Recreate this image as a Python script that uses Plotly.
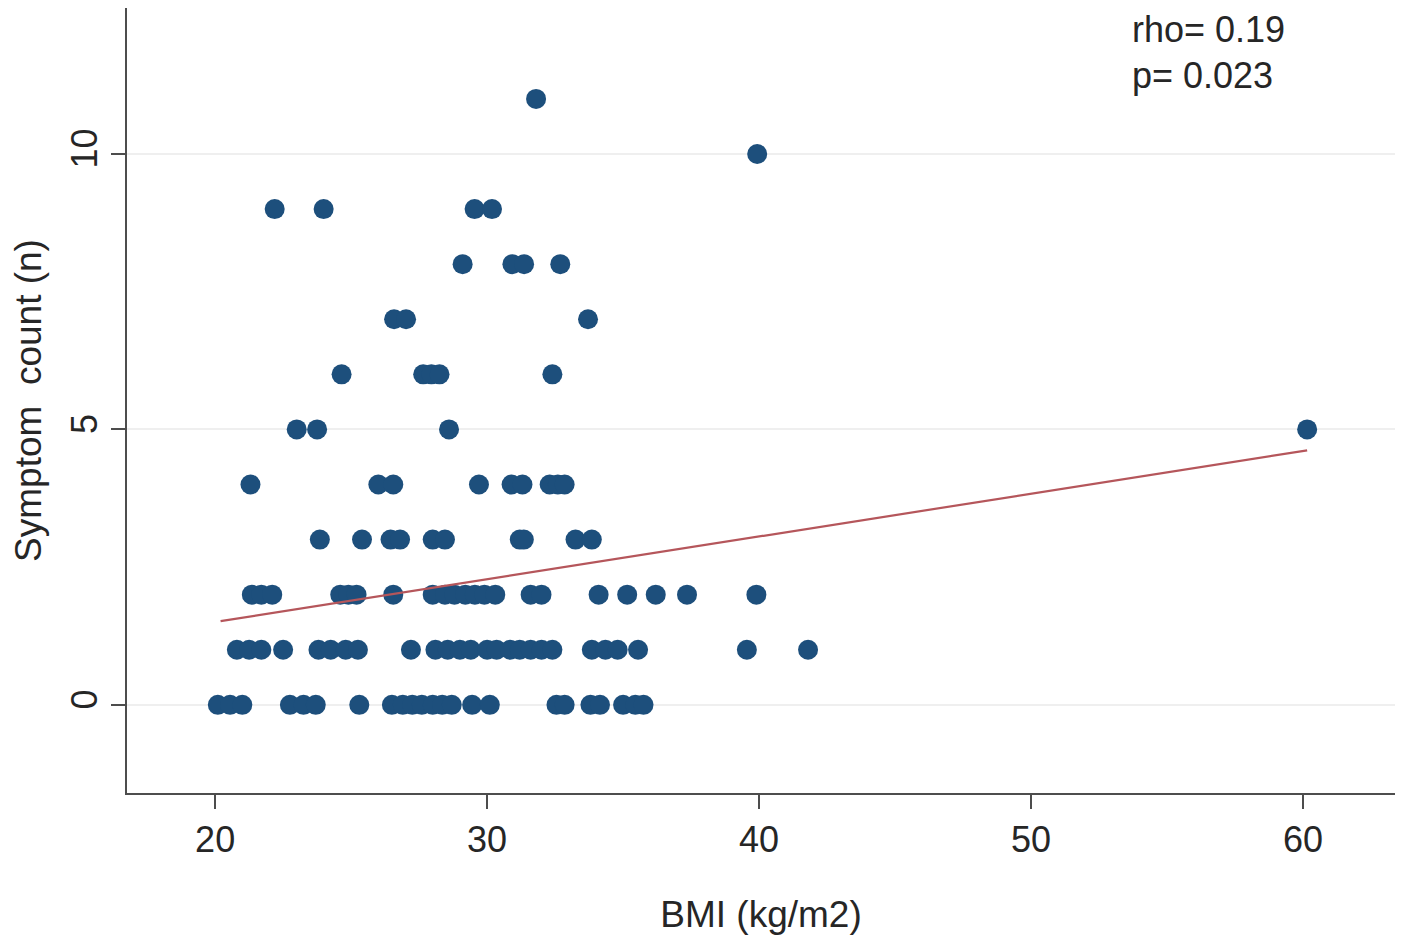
import plotly.graph_objects as go

# Data: BMI (kg/m2) and symptom count
bmi = [
    # count 0
    20.1, 20.55, 21.0, 22.75, 23.25, 23.7, 25.3, 26.5, 26.9, 27.25, 27.6, 28.0, 28.35, 28.7,
    29.45, 30.1, 32.55, 32.85, 33.8, 34.15, 35.0, 35.45, 35.75,
    # count 1
    20.8, 21.25, 21.7, 22.5, 23.8, 24.25, 24.8, 25.25, 27.2, 28.1, 28.55, 29.0, 29.4, 30.0,
    30.35, 30.85, 31.2, 31.6, 32.0, 32.4, 33.85, 34.35, 34.8, 35.55, 39.55, 41.8,
    # count 2
    21.35, 21.7, 22.1, 24.6, 24.9, 25.2, 26.55, 28.0, 28.45, 28.8, 29.2, 29.55, 29.9, 30.3,
    31.6, 32.0, 34.1, 35.15, 36.2, 37.35, 39.9,
    # count 3
    23.85, 25.4, 26.45, 26.8, 28.0, 28.45, 31.2, 31.35, 33.25, 33.85,
    # count 4
    21.3, 26.0, 26.55, 29.7, 30.9, 31.3, 32.3, 32.6, 32.85,
    # count 5
    23.0, 23.75, 28.6, 60.15,
    # count 6
    24.65, 27.65, 27.95, 28.25, 32.4,
    # count 7
    26.58, 27.02, 33.71,
    # count 8
    29.1, 30.93, 31.36, 32.69,
    # count 9
    22.19, 23.99, 29.54, 30.18,
    # count 10
    39.93,
    # count 11
    31.8,
]
counts = (
    [0] * 23 + [1] * 26 + [2] * 21 + [3] * 10 + [4] * 9 + [5] * 4 + [6] * 5
    + [7] * 3 + [8] * 4 + [9] * 4 + [10] * 1 + [11] * 1
)

# Fitted line end points
fit_x = [20.2, 60.15]
fit_y = [1.52, 4.62]

x_ticks = [20, 30, 40, 50, 60]
y_ticks = [0, 5, 10]

fig = go.Figure()
fig.add_trace(go.Scatter(
    x=bmi, y=counts, mode="markers",
    marker=dict(size=20, color="#1d4f7c", line=dict(width=0)),
    showlegend=False,
))
fig.add_trace(go.Scatter(
    x=fit_x, y=fit_y, mode="lines",
    line=dict(color="#b5565b", width=2.2),
    showlegend=False,
))

font_family = "Liberation Sans, Arial, sans-serif"
txt = "#262626"

fig.update_layout(
    width=1418, height=950,
    margin=dict(l=119, r=31, t=0, b=165),
    paper_bgcolor="white", plot_bgcolor="white",
    font=dict(family=font_family, size=36, color=txt),
    xaxis=dict(
        range=[16.76, 63.38], tickvals=x_ticks,
        showline=True, linecolor="#4d4d4d", linewidth=2,
        ticks="outside", ticklen=14, tickwidth=2, tickcolor="#4d4d4d",
        showgrid=False, zeroline=False,
        tickfont=dict(size=36, color=txt),
        title=dict(text="BMI (kg/m2)", font=dict(size=37, color=txt), standoff=42),
    ),
    yaxis=dict(
        range=[-1.6, 12.65], tickvals=y_ticks, tickangle=-90,
        showline=True, linecolor="#4d4d4d", linewidth=2,
        ticks="outside", ticklen=14, tickwidth=2, tickcolor="#4d4d4d",
        showgrid=True, gridcolor="#efefef", gridwidth=2, zeroline=False,
        tickfont=dict(size=36, color=txt),
        title=dict(text="Symptom\u00a0\u00a0count (n)", font=dict(size=37, color=txt), standoff=18),
    ),
)

fig.add_annotation(
    text="rho= 0.19", xref="paper", yref="paper",
    x=(1122 - 119) / 1268, y=1 - 22 / 785, xanchor="left", yanchor="middle",
    showarrow=False, font=dict(size=36, color=txt),
)
fig.add_annotation(
    text="p= 0.023", xref="paper", yref="paper",
    x=(1122 - 119) / 1268, y=1 - 68 / 785, xanchor="left", yanchor="middle",
    showarrow=False, font=dict(size=36, color=txt),
)

fig.write_html("out.html")
